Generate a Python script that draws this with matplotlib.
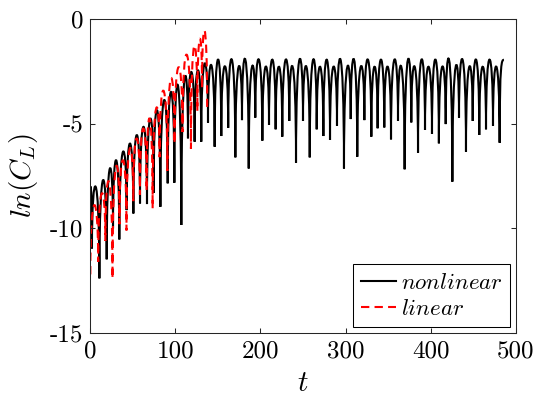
import matplotlib
matplotlib.use("Agg")
import matplotlib.pyplot as plt
from matplotlib.path import Path
from matplotlib.patches import PathPatch
from matplotlib.lines import Line2D

plt.rcParams["mathtext.fontset"] = "cm"

# ---- nonlinear run: cusps (minima) of ln(C_L), crest value of each lobe between them,
#      and the final point (the run stops on a crest)
t_nl_min = [0.3, 2.3, 11.0, 19.6, 27.0, 34.4, 43.0, 50.9, 58.7, 66.9,
            74.7, 82.6, 91.2, 99.0, 107.2, 115.0, 122.8, 130.6, 138.5, 146.3,
            154.1, 162.2, 170.6, 178.4, 186.3, 194.0, 202.3, 210.1, 217.9, 225.7,
            233.9, 241.8, 250.0, 257.9, 266.1, 273.9, 281.7, 289.9, 298.1, 306.0,
            313.7, 322.0, 330.2, 337.6, 345.4, 353.3, 361.5, 369.3, 377.1, 385.0,
            393.2, 401.4, 409.5, 417.5, 425.3, 433.1, 441.3, 449.2, 456.9, 464.8,
            473.0, 480.8]
nl_min = [-8.3, -10.96, -12.39, -11.48, -10.0, -10.53, -9.13, -9.29, -8.81, -8.84,
          -8.3, -8.97, -7.85, -7.82, -9.84, -5.70, -5.86, -5.86, -4.95, -6.10,
          -5.59, -5.2, -6.61, -4.83, -7.14, -4.71, -5.81, -5.06, -5.27, -5.62,
          -4.87, -6.87, -4.87, -6.61, -5.27, -5.59, -5.78, -5.10, -7.14, -4.78,
          -6.58, -4.83, -5.62, -5.22, -5.18, -5.75, -4.86, -7.18, -4.94, -6.39,
          -5.30, -5.49, -5.94, -5.02, -7.77, -4.71, -6.34, -4.87, -5.54, -5.27,
          -5.10, -5.91]
nl_max = [-8.2, -8.01, -7.69, -7.14, -6.74, -6.34, -5.94, -5.54, -5.14, -4.75,
          -4.35, -3.87, -3.47, -3.15, -2.83, -2.52, -2.44, -2.12, -2.20, -1.93,
          -2.25, -1.93, -2.27, -1.93, -2.27, -1.93, -2.27, -1.93, -2.27, -1.93,
          -2.27, -1.93, -2.27, -1.93, -2.27, -1.93, -2.27, -1.93, -2.27, -1.93,
          -2.27, -1.93, -2.27, -1.93, -2.27, -1.93, -2.27, -1.93, -2.27, -1.93,
          -2.27, -1.93, -2.27, -1.93, -2.27, -1.93, -2.27, -1.93, -2.27, -1.93,
          -2.27]
t_nl_end, nl_end = 485.8, -1.95

# ---- linear run (ends after its last crest, falling)
t_lin_min = [0.4, 9.6, 18.0, 26.4, 34.6, 42.8, 50.8, 58.6, 66.4, 73.5,
             81.7, 90.8, 99.2, 108.6, 118.5, 126.0, 131.5, 137.5]
lin_min = [-12.2, -11.6, -10.6, -12.4, -9.8, -10.1, -8.7, -8.4, -8.2, -9.05,
           -6.6, -7.25, -5.95, -5.4, -6.2, -4.4, -3.3, -4.2]
lin_max = [-8.89, -8.33, -7.77, -7.06, -6.74, -6.18, -5.70, -5.22, -4.75, -4.27,
           -3.42, -2.83, -2.30, -1.70, -1.30, -0.95, -0.56]

x_ticks = [0, 100, 200, 300, 400, 500]
y_ticks = [-15, -10, -5, 0]
x_tick_labels = ["0", "100", "200", "300", "400", "500"]
y_tick_labels = ["-15", "-10", "-5", "0"]
series_labels = [r"$nonlinear$", r"$linear$"]


def lobe_path(t_min, y_min, y_max, end=None):
    # each lobe: a rounded crest between two cusps (cubic Bezier, drawn by matplotlib)
    verts = [(t_min[0], y_min[0])]
    codes = [Path.MOVETO]
    for i, top in enumerate(y_max):
        ta, ya = t_min[i], y_min[i]
        tb, yb = t_min[i + 1], y_min[i + 1]
        c = (top - 0.125 * (ya + yb)) / 0.75
        verts += [(ta, c), (tb, c), (tb, yb)]
        codes += [Path.CURVE4] * 3
    if end is not None:
        ta = t_min[-1]
        tb, yb = end
        verts += [(ta, yb), (0.5 * (ta + tb), yb), (tb, yb)]
        codes += [Path.CURVE4] * 3
    return Path(verts, codes)


fig = plt.figure(figsize=(5.37, 3.99), dpi=100)
ax = fig.add_axes([90 / 537, 1 - 333 / 399, 426 / 537, 314 / 399])

ax.add_patch(PathPatch(lobe_path(t_nl_min, nl_min, nl_max, (t_nl_end, nl_end)),
                       fill=False, edgecolor="black", linewidth=1.5,
                       joinstyle="bevel", capstyle="butt"))
ax.add_patch(PathPatch(lobe_path(t_lin_min, lin_min, lin_max), fill=False,
                       edgecolor="red", linewidth=1.5, linestyle=(0, (4, 2.5)),
                       joinstyle="bevel", capstyle="butt"))

ax.set_xlim(0, 500)
ax.set_ylim(-15, 0)
ax.set_xticks(x_ticks)
ax.set_yticks(y_ticks)
ax.set_xticklabels(x_tick_labels, fontfamily="cmr10", fontsize=18)
ax.set_yticklabels(y_tick_labels, fontfamily="cmr10", fontsize=18)
ax.tick_params(direction="in", length=3.5, width=0.75, top=True, right=True,
               colors="#262626", labelcolor="black", pad=5)
for s in ax.spines.values():
    s.set_linewidth(0.75)
    s.set_color("#262626")

ax.set_xlabel(r"$t$", fontsize=21, labelpad=5)
ax.set_ylabel(r"$ln(C_L)$", fontsize=21, labelpad=7)

handles = [Line2D([], [], color="black", lw=1.5),
           Line2D([], [], color="red", lw=1.5, linestyle=(0, (4, 2.5)))]
leg = ax.legend(handles, series_labels, loc="lower right", fontsize=16.5,
                frameon=True, fancybox=False, framealpha=1, edgecolor="black",
                borderaxespad=0.25, handlelength=1.55, handletextpad=0.22,
                labelspacing=0.12, borderpad=0.32)
leg.get_frame().set_linewidth(0.75)

fig.savefig("out.png", dpi=100)
